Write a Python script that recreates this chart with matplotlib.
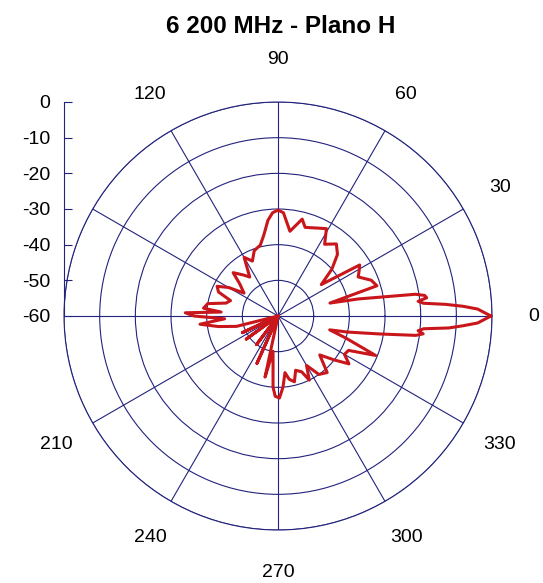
import numpy as np
import matplotlib
matplotlib.use("Agg")
import matplotlib.pyplot as plt

plt.rcParams['font.family'] = ['Liberation Sans', 'DejaVu Sans']

title = "6 200 MHz - Plano H"

# Angle (degrees) and gain (dB)
angles_deg = [0, 2, 3, 4, 5, 6, 7, 8, 9, 12, 14, 17, 21, 26, 29, 32, 36, 41, 46,
              51, 57, 61, 66, 69, 73, 76, 82, 87, 90, 93, 96, 100, 104, 110, 115,
              120, 126, 130, 136, 140, 146, 150, 154, 158, 162, 166, 170, 174, 176,
              178, 180, 183, 186, 190, 194, 198, 205, 210, 216, 222, 233, 240, 246,
              252, 258, 262, 266, 268, 271, 274, 277, 280, 284, 288, 293,
              296, 300, 305, 311, 317, 322, 326, 330, 334, 338, 342, 345, 347, 350,
              352, 353, 354, 355, 356, 357, 358, 360]
gain_db = [-0.3, -4, -8, -13, -19, -20.5, -18, -18.5, -21, -37, -45, -31, -32, -35,
           -34, -33, -45, -40, -36, -34, -36, -32, -33, -33.5, -34, -32, -36, -31,
           -30.3, -31, -33, -37, -39.5, -40.5, -43, -41, -46.5, -45, -42.5, -46,
           -48.5, -44, -41, -42, -46, -45, -40, -39, -44, -34, -36.5, -45, -38,
           -43, -48, -60, -49, -60, -49, -60, -50, -60, -45.5, -60, -42.5, -50,
           -40, -37.5, -37, -40, -44, -42, -41, -44, -43, -40, -44, -40, -39,
           -44, -40, -36, -38.5, -38, -30.5, -40, -45, -40, -31, -21, -19, -20.5,
           -19, -12, -8, -4, -0.3]

radial_ticks = [-60, -50, -40, -30, -20, -10, 0]
theta_labels = [0, 30, 60, 90, 120, 210, 240, 270, 300, 330]

grid_color = '#23237d'
trace_color = '#c8161b'

fig = plt.figure(figsize=(5.43, 5.83), dpi=100)

ax = fig.add_axes([0.1179, 0.0909, 0.7882, 0.7341], projection='polar')
theta = np.deg2rad(np.array(angles_deg, dtype=float))
r = np.clip(np.array(gain_db, dtype=float), -60, 0)
ax.plot(theta, r, color=trace_color, linewidth=2.2, zorder=3)
ax.set_ylim(-60, 0)
ax.set_yticks(radial_ticks[1:])
ax.set_yticklabels([])
ax.set_xticks(np.deg2rad(np.arange(0, 360, 30)))
ax.set_xticklabels([])
ax.grid(True, color=grid_color, linewidth=0.8, linestyle='-')
ax.spines['polar'].set_color(grid_color)
ax.spines['polar'].set_linewidth(0.8)
ax.tick_params(length=0)

for a in theta_labels:
    ax.text(np.deg2rad(a), 11.8, str(a), ha='center', va='center',
            fontsize=14, clip_on=False)

# Left radial scale
axl = fig.add_axes([0.1179, 0.4580, 0.0001, 0.3671])
axl.set_ylim(-60, 0)
axl.set_yticks(radial_ticks)
axl.set_yticklabels([str(v) for v in radial_ticks], fontsize=14)
axl.set_xticks([])
for s in ['top', 'right', 'bottom']:
    axl.spines[s].set_visible(False)
axl.spines['left'].set_color(grid_color)
axl.spines['left'].set_linewidth(0.8)
axl.tick_params(axis='y', direction='in', length=6, width=0.8, color=grid_color, pad=10)
axl.patch.set_alpha(0)

fig.text(0.5175, 0.955, title, ha='center', va='center', fontsize=17.5, fontweight='bold')

fig.savefig('out.png', dpi=100)
